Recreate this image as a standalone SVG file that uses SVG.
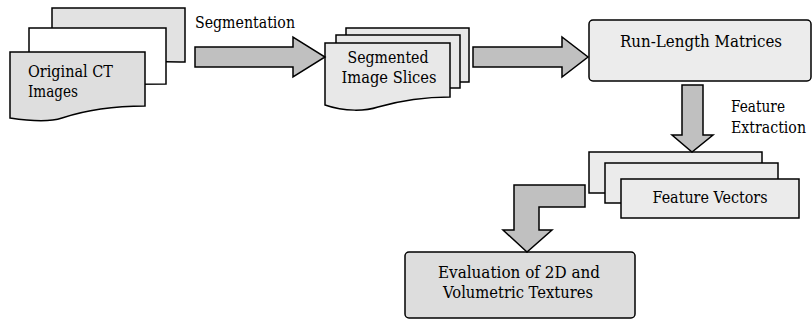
<svg xmlns="http://www.w3.org/2000/svg" width="812" height="320" viewBox="0 0 812 320">
<style>
  .doc { stroke: #000; stroke-width: 1.5; }
  .box { stroke: #000; stroke-width: 1.5; }
  .arrow { fill: #c0c0c0; stroke: #000; stroke-width: 1.5; stroke-linejoin: miter; }
  .t { font-family: 'DejaVu Serif', 'Liberation Serif', serif; font-size: 16px; fill: #000; }
  .mid { text-anchor: middle; }
</style>
<rect width="812" height="320" fill="#fff"/>

<g id="original-ct-images">
  <path class="doc" fill="#e2e2e2" d="M52,8 H185 V62 C150,62 90,58 78,66 C70,70 60,68 52,66 Z"/>
  <path class="doc" fill="#ffffff" d="M29,28 H166 V84 C130,84 75,84 60,90 C50,93 38,92 29,90 Z"/>
  <path class="doc" fill="#dedede" d="M10,52 H145 V106 C110,106 80,112 62,118 C50,122 30,121 10,118 Z"/>
  <text class="t" x="28" y="77" textLength="85" lengthAdjust="spacingAndGlyphs">Original CT</text>
  <text class="t" x="28" y="97" textLength="50" lengthAdjust="spacingAndGlyphs">Images</text>
</g>

<g id="segmented-image-slices">
  <rect class="box" fill="#e8e8e8" x="346" y="28" width="123" height="54"/>
  <rect class="box" fill="#e8e8e8" x="336" y="35" width="124" height="53"/>
  <path class="doc" fill="#e8e8e8" d="M325,43 H450 V97 C418,97 392,103 378,107 C366,111 345,112 325,105 Z"/>
  <text class="t mid" x="388" y="63" textLength="81" lengthAdjust="spacingAndGlyphs">Segmented</text>
  <text class="t mid" x="389" y="83" textLength="95" lengthAdjust="spacingAndGlyphs">Image Slices</text>
</g>

<g id="run-length-matrices">
  <rect class="box" fill="#ececec" x="589" y="20" width="222" height="61" rx="4"/>
  <text class="t mid" x="701" y="47" textLength="162" lengthAdjust="spacingAndGlyphs">Run-Length Matrices</text>
</g>

<g id="feature-vectors">
  <rect class="box" fill="#ebebeb" x="589" y="152" width="173" height="41"/>
  <rect class="box" fill="#ebebeb" x="605" y="163" width="173" height="40"/>
  <rect class="box" fill="#ebebeb" x="621" y="179" width="178" height="39"/>
  <text class="t mid" x="710" y="203" textLength="115" lengthAdjust="spacingAndGlyphs">Feature Vectors</text>
</g>

<g id="evaluation">
  <rect class="box" fill="#dddddd" x="405" y="252" width="230" height="66" rx="4"/>
  <text class="t mid" x="519" y="278" textLength="162" lengthAdjust="spacingAndGlyphs">Evaluation of 2D and</text>
  <text class="t mid" x="518" y="298" textLength="150" lengthAdjust="spacingAndGlyphs">Volumetric Textures</text>
</g>

<g id="connectors">
  <polygon class="arrow" points="195,47 293,47 293,37 325,57 293,77 293,67 195,67"/>
  <polygon class="arrow" points="473,47 562,47 562,37 588,57 562,77 562,67 473,67"/>
  <polygon class="arrow" points="682,85 703,85 703,135 713,135 692,152 672,135 682,135"/>
  <polygon class="arrow" points="585,185 514,185 514,230 503,230 527,252 552,230 539,230 539,207 585,207"/>
  <text class="t" x="195" y="28" textLength="100" lengthAdjust="spacingAndGlyphs">Segmentation</text>
  <text class="t" x="731" y="112" textLength="54" lengthAdjust="spacingAndGlyphs">Feature</text>
  <text class="t" x="806" y="133" text-anchor="end" textLength="75" lengthAdjust="spacingAndGlyphs">Extraction</text>
</g>
</svg>
